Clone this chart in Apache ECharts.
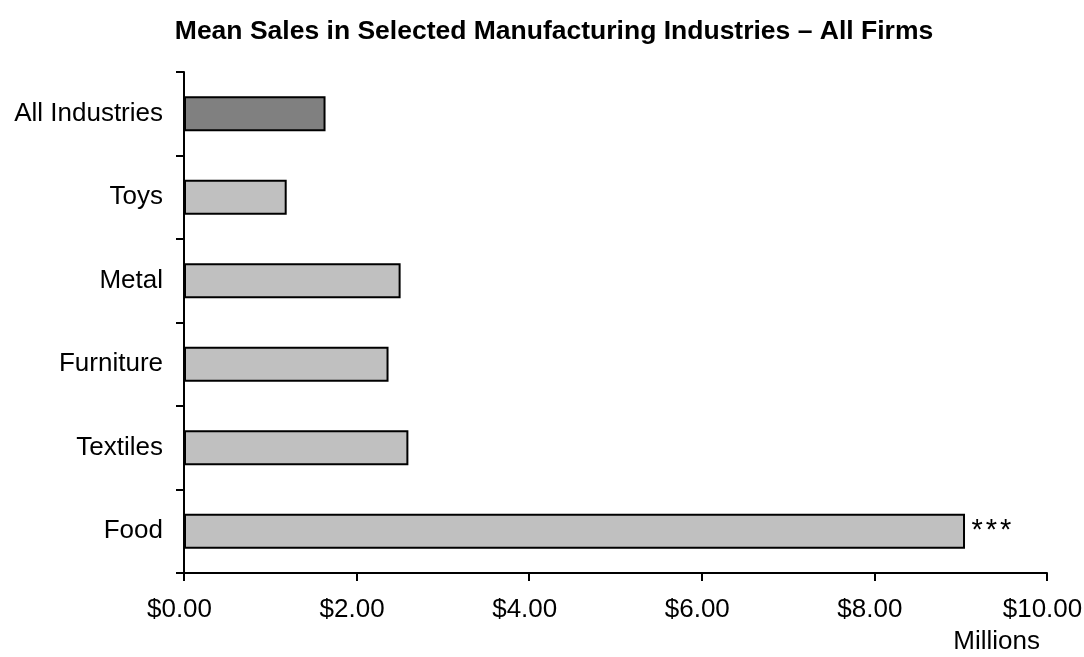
<!DOCTYPE html>
<html>
<head>
<meta charset="utf-8">
<script src="https://cdn.jsdelivr.net/npm/echarts@6/dist/echarts.min.js"></script>
<style>
  html, body { margin: 0; padding: 0; background: #fff; }
  #chart { width: 1084px; height: 657px; }
</style>
</head>
<body>
<div id="chart"></div>
<script>
// Industries listed bottom-to-top (category axis starts at the bottom)
const industries = ['Food', 'Textiles', 'Furniture', 'Metal', 'Toys', 'All Industries'];
// Mean sales, millions of dollars
const meanSales = [9.05, 2.60, 2.37, 2.51, 1.19, 1.64];
// Significance marker shown beside a bar
const significance = ['***', '', '', '', '', ''];
const xTicks = { min: 0, max: 10, interval: 2 };

const FONT = '"Liberation Sans", Arial, sans-serif';

const chart = echarts.init(document.getElementById('chart'), null, { renderer: 'canvas' });

const barData = meanSales.map((v, i) => ({
  value: v,
  itemStyle: { color: industries[i] === 'All Industries' ? '#808080' : '#C0C0C0' },
  label: significance[i]
    ? {
        show: true,
        position: 'right',
        distance: 5,
        formatter: significance[i].split('').map(c => '{s|' + c + '}').join(''),
        rich: { s: { fontFamily: FONT, fontSize: 29, color: '#000', padding: [0, 1.5, 0, 1.5] } }
      }
    : { show: false }
}));

chart.setOption({
  animation: false,
  backgroundColor: '#fff',
  title: {
    text: 'Mean Sales in Selected Manufacturing Industries \u2013 All Firms',
    left: 549,
    textAlign: 'center',
    top: 13,
    textStyle: { fontFamily: FONT, fontSize: 26.5, fontWeight: 'bold', color: '#000' }
  },
  grid: { left: 184, right: 37, top: 72, bottom: 84, containLabel: false, outerBoundsMode: 'none' },
  xAxis: {
    type: 'value',
    min: xTicks.min,
    max: xTicks.max,
    interval: xTicks.interval,
    axisLine: { show: true, lineStyle: { color: '#000', width: 2 } },
    axisTick: { show: true, length: 8, lineStyle: { color: '#000', width: 2 } },
    axisLabel: {
      margin: 24,
      padding: [0, 9, 0, 0],
      fontFamily: FONT, fontSize: 26, color: '#000',
      formatter: v => '$' + v.toFixed(2)
    },
    splitLine: { show: false }
  },
  yAxis: {
    type: 'category',
    data: industries,
    axisLine: { show: true, lineStyle: { color: '#000', width: 2 } },
    axisTick: { show: true, length: 8, lineStyle: { color: '#000', width: 2 } },
    axisLabel: { margin: 21, fontFamily: FONT, fontSize: 26, color: '#000' },
    splitLine: { show: false }
  },
  graphic: [{
    type: 'text',
    right: 44,
    top: 629,
    style: { text: 'Millions', fontFamily: FONT, fontSize: 26, fill: '#000' }
  }],
  series: [{
    type: 'bar',
    data: barData,
    barCategoryGap: '58%',
    itemStyle: { borderColor: '#000', borderWidth: 2 }
  }]
});
</script>
</body>
</html>
